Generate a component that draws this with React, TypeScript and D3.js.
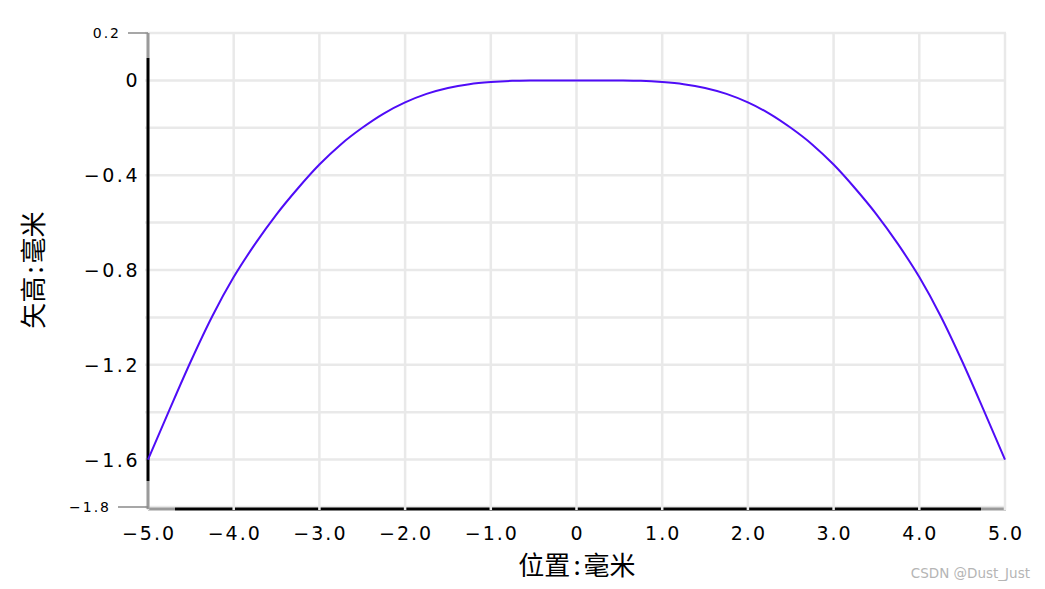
import React from "react";
import * as d3 from "d3";

const xValues = [-5, -4.75, -4.5, -4.25, -4, -3.75, -3.5, -3.25, -3, -2.75, -2.5, -2.25, -2, -1.75, -1.5, -1.25, -1, -0.75, -0.5, -0.25, 0, 0.25, 0.5, 0.75, 1, 1.25, 1.5, 1.75, 2, 2.25, 2.5, 2.75, 3, 3.25, 3.5, 3.75, 4, 4.25, 4.5, 4.75, 5];
const sagValues = [-1.6, -1.39, -1.185, -0.995, -0.83, -0.69, -0.565, -0.455, -0.355, -0.27, -0.2, -0.14, -0.093, -0.057, -0.032, -0.016, -0.007, -0.002, -0.0005, 0, 0, 0, -0.0005, -0.002, -0.007, -0.016, -0.032, -0.057, -0.093, -0.14, -0.2, -0.27, -0.355, -0.455, -0.565, -0.69, -0.83, -0.995, -1.185, -1.39, -1.6];
const xTickValues = [-5, -4, -3, -2, -1, 0, 1, 2, 3, 4, 5];
const xTickLabels = ["−5.0", "−4.0", "−3.0", "−2.0", "−1.0", "0", "1.0", "2.0", "3.0", "4.0", "5.0"];
const yGridValues = [0.2, 0, -0.2, -0.4, -0.6, -0.8, -1.0, -1.2, -1.4, -1.6, -1.8];
const yTickValues = [0, -0.4, -0.8, -1.2, -1.6];
const yTickLabels = ["0", "−0.4", "−0.8", "−1.2", "−1.6"];
const yEndLabels = [{ v: 0.2, t: "0.2" }, { v: -1.8, t: "−1.8" }];

const W = 1045;
const H = 589;
const L = 148, R = 1005, T = 33, B = 507;

export default function App() {
  const x = d3.scaleLinear().domain([-5, 5]).range([L, R]);
  const y = d3.scaleLinear().domain([-1.8, 0.2]).range([B, T]);
  const pts: [number, number][] = xValues.map((v, i) => [v, sagValues[i]]);
  const line = d3
    .line<[number, number]>()
    .x((d) => x(d[0]))
    .y((d) => y(d[1]))
    .curve(d3.curveMonotoneX);
  const tickFont = "'DejaVu Sans', Verdana, sans-serif";
  const cjk = "'Noto Sans CJK SC', sans-serif";
  const axisY = 509;
  return (
    <svg width={W} height={H} style={{ position: "absolute", left: 0, top: 0, background: "#fff" }}>
      {/* horizontal grid */}
      {yGridValues.map((v) => (
        <line key={"h" + v} x1={L - 3} x2={R + 1} y1={y(v)} y2={y(v)} stroke="#e9e9e9" strokeWidth={2.5} />
      ))}
      {/* bottom axis */}
      <line x1={L} x2={L + 27} y1={axisY} y2={axisY} stroke="#9a9a9a" strokeWidth={3} />
      <line x1={L + 27} x2={R - 24} y1={axisY} y2={axisY} stroke="#000" strokeWidth={3} />
      <line x1={R - 24} x2={R + 1} y1={axisY} y2={axisY} stroke="#9a9a9a" strokeWidth={3} />
      {/* vertical grid */}
      {xTickValues.map((v) => (
        <line key={"v" + v} x1={x(v)} x2={x(v)} y1={T} y2={axisY + 1} stroke="#e9e9e9" strokeWidth={2.5} />
      ))}
      {/* left axis */}
      <line x1={L} x2={L} y1={T} y2={T + 25} stroke="#9a9a9a" strokeWidth={3} />
      <line x1={L} x2={L} y1={T + 25} y2={B - 26} stroke="#000" strokeWidth={3} />
      <line x1={L} x2={L} y1={B - 26} y2={axisY} stroke="#9a9a9a" strokeWidth={3} />
      {/* end ticks */}
      <line x1={128} x2={L} y1={y(0.2)} y2={y(0.2)} stroke="#8a8a8a" strokeWidth={1.5} />
      <line x1={118} x2={L} y1={y(-1.8)} y2={y(-1.8)} stroke="#8a8a8a" strokeWidth={1.5} />
      {/* curve */}
      <path d={line(pts) || ""} fill="none" stroke="#4f0cf7" strokeWidth={2} />
      {/* y tick labels */}
      {yTickValues.map((v, i) => (
        <text key={"yl" + v} x={140} y={y(v) + 7} textAnchor="end" fontFamily={tickFont} fontSize={19} letterSpacing={2.5} fill="#000">
          {yTickLabels[i]}
        </text>
      ))}
      {yEndLabels.map((d) => (
        <text key={"ye" + d.t} x={d.v > 0 ? 121 : 111} y={y(d.v) + 5} textAnchor="end" fontFamily={tickFont} fontSize={14} letterSpacing={2} fill="#000">
          {d.t}
        </text>
      ))}
      {/* x tick labels */}
      {xTickValues.map((v, i) => (
        <text key={"xl" + v} x={x(v) + 1} y={540} textAnchor="middle" fontFamily={tickFont} fontSize={19} letterSpacing={2} fill="#000">
          {xTickLabels[i]}
        </text>
      ))}
      {/* axis titles */}
      <text x={577} y={575} textAnchor="middle" fontFamily={cjk} fontSize={26} fill="#000">
        位置<tspan dx={3}>:</tspan><tspan dx={3}>毫米</tspan>
      </text>
      <text transform="translate(43,270) rotate(-90)" textAnchor="middle" fontFamily={cjk} fontSize={26} fill="#000">
        矢高<tspan dx={3}>:</tspan><tspan dx={3}>毫米</tspan>
      </text>
      {/* watermark */}
      <text x={1030} y={578} textAnchor="end" fontFamily="'DejaVu Sans', sans-serif" fontSize={13.5} fill="#b5b5b5">
        CSDN @Dust_Just
      </text>
    </svg>
  );
}
